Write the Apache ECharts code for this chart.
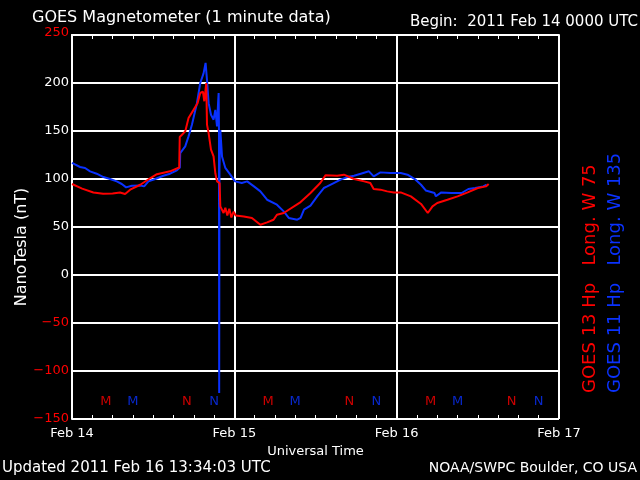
<!DOCTYPE html>
<html>
<head>
<meta charset="utf-8">
<script src="https://cdn.jsdelivr.net/npm/echarts@6/dist/echarts.min.js"></script>
<style>html,body{margin:0;padding:0;background:#000;}#c{width:640px;height:480px;}</style>
</head>
<body>
<div id="c"></div>
<script>
// time in hours since 2011 Feb 14 00:00 UTC
const dayLabels = ['Feb 14', 'Feb 15', 'Feb 16', 'Feb 17'];
const yTicks = [-150, -100, -50, 0, 50, 100, 150, 200, 250];
const redYTicks = [-150, -100, -50, 250];

const redTime = [0,1.5,3.16,4.6,6,7.1,7.85,8.6,10.1,11.6,12.55,14.5,15.85,15.93,16.74,17.23,17.97,18.56,18.96,19.36,19.56,19.85,19.96,20.19,20.55,20.93,21.19,21.44,21.82,21.93,22.41,22.67,22.96,23.26,23.56,23.9,24.2,25.4,26.6,27.85,28.84,29.8,30.3,31.3,33.8,35.26,36.7,37.5,39.2,40.2,41.7,43.2,44.1,44.6,45.6,46.6,47.6,48.6,50.1,51.6,52.6,53.3,54.0,55.5,57.0,58.5,60.0,61.2,61.6];
const redValue = [94.8,90,86,84.7,85,86,84.4,88.9,94,101,105,108,112,143.7,149.6,163.5,172,179,189.6,191,181,200,156.6,148,130.5,123.5,106,97.5,95.8,71.5,64.6,70,62,69,60,66,62,61,59.4,52.4,54.8,57.6,62.8,64.6,76,85.4,95.8,104,103.4,104.5,100,97.5,95.8,89.6,88.9,87.1,86,86,81.9,74,64.6,71.5,75,78.4,81.9,86,90.6,92.3,94.8];

const blueTime = [0,1.19,1.93,2.67,3.65,4.64,5.63,6.62,7.36,8.0,8.84,10.07,10.67,11.3,12.3,13.5,14.5,15.5,15.95,16.0,16.74,17.23,17.73,18.47,18.96,19.45,19.75,19.96,20.2,20.55,20.93,21.19,21.44,21.6,21.68,21.73,21.76,21.8,21.93,22.18,22.67,23.4,24.1,25.1,25.9,26.9,27.85,28.84,30.3,31.3,32.05,33.3,33.8,34.3,35.26,36.25,37.23,37.73,38.7,39.7,40.7,41.7,42.7,43.9,44.6,45.6,47.1,48.6,49.6,50.8,51.6,52.3,53.6,53.8,54.6,56.1,57.6,58.6,59.6,60.8,61.3];
const blueValue = [116.7,112.5,111.5,108,105.5,102,100,97.5,94.8,91.3,93,93.3,92.3,97.5,100,103.4,105.5,109,112,127,134,144.4,156.6,179,200,210,221,203,179,167,161.8,172,154.8,180,189.6,150,-123,110,151,123.5,111.5,104.5,97.5,95.8,97.5,92.3,87.1,78.4,73.2,66.3,59.4,57.6,59.4,68,72.2,81.9,90.6,92.3,95.8,99.3,102,103.4,105.5,108,102.7,106.9,106.2,106.2,104.5,99.3,94,88.1,85.4,82,86,85.4,85.4,89.6,90.6,92.3,94];

// magnetic local midnight (M) and noon (N) markers
const redMarkTime = [5,17,29,41,53,65];
const redMarkText = ['M','N','M','N','M','N'];
const blueMarkTime = [9,21,33,45,57,69];
const blueMarkText = ['M','N','M','N','M','N'];
const markLevel = -132;

const RED = '#ff0000', BLUE = '#0a32ff', WHITE = '#ffffff';
const FONT = 'DejaVu Sans';

function pairs(t, v) { return t.map((x, i) => [x, v[i]]); }
function marks(t, s) { return t.map((x, i) => ({ value: [x, markLevel], name: s[i] })); }

const chart = echarts.init(document.getElementById('c'), null, { renderer: 'canvas' });
const option = {
  backgroundColor: '#000',
  animation: false,
  textStyle: { fontFamily: FONT },
  title: [
    { text: 'GOES Magnetometer (1 minute data)', left: 32, top: 10, padding: 0,
      textStyle: { color: WHITE, fontSize: 16, fontWeight: 'normal', fontFamily: FONT } },
    { text: 'Begin:  2011 Feb 14 0000 UTC', right: 2, top: 15, padding: 0,
      textStyle: { color: WHITE, fontSize: 15, fontWeight: 'normal', fontFamily: FONT } },
    { text: 'Updated 2011 Feb 16 13:34:03 UTC', left: 2, top: 461, padding: 0,
      textStyle: { color: WHITE, fontSize: 15, fontWeight: 'normal', fontFamily: FONT } },
    { text: 'NOAA/SWPC Boulder, CO USA', right: 3, top: 461, padding: 0,
      textStyle: { color: WHITE, fontSize: 14, fontWeight: 'normal', fontFamily: FONT } }
  ],
  grid: { left: 72, right: 81, top: 35, bottom: 61, containLabel: false },
  xAxis: [
    { type: 'value', min: 0, max: 72, interval: 24, position: 'bottom',
      name: 'Universal Time', nameLocation: 'middle', nameGap: 22,
      nameTextStyle: { color: WHITE, fontSize: 13, fontFamily: FONT },
      axisLine: { show: true, lineStyle: { color: WHITE, width: 2 } },
      axisTick: { show: false },
      axisLabel: { color: WHITE, fontSize: 13, margin: 8, fontFamily: FONT,
        formatter: v => dayLabels[Math.round(v / 24)] },
      splitLine: { show: true, lineStyle: { color: WHITE, width: 2 } } },
    { type: 'value', min: 0, max: 72, interval: 3, position: 'bottom',
      axisLine: { show: false },
      axisTick: { show: true, inside: true, length: 4, lineStyle: { color: WHITE, width: 1 } },
      axisLabel: { show: false }, splitLine: { show: false } },
    { type: 'value', min: 0, max: 72, interval: 3, position: 'top',
      axisLine: { show: true, lineStyle: { color: WHITE, width: 2 } },
      axisTick: { show: true, inside: true, length: 4, lineStyle: { color: WHITE, width: 1 } },
      axisLabel: { show: false }, splitLine: { show: false } }
  ],
  yAxis: [
    { type: 'value', min: -150, max: 250, interval: 50, position: 'left',
      axisLine: { show: true, lineStyle: { color: WHITE, width: 2 } },
      axisTick: { show: false },
      axisLabel: { margin: 3, fontSize: 13, fontFamily: FONT,
        formatter: v => {
          const s = String(v).replace('-', '\u2212');
          if (v === 250) return '{top|' + s + '}';
          return (redYTicks.indexOf(v) >= 0 ? '{r|' : '{w|') + s + '}';
        },
        rich: {
          r: { color: RED, fontSize: 13, fontFamily: FONT },
          w: { color: WHITE, fontSize: 13, fontFamily: FONT },
          top: { color: RED, fontSize: 13, fontFamily: FONT, padding: [0, 0, 5, 0] }
        } },
      splitLine: { show: true, lineStyle: { color: WHITE, width: 2 } } }
  ],
  graphic: [
    { type: 'text', x: 22, y: 247, rotation: Math.PI / 2,
      style: { text: 'NanoTesla (nT)', fill: WHITE, font: '16px "DejaVu Sans"',
        textAlign: 'center', textVerticalAlign: 'middle' } },
    { type: 'text', x: 590, y: 393, rotation: Math.PI / 2,
      style: { text: 'GOES 13 Hp   Long. W 75', fill: RED, font: '18px "DejaVu Sans"',
        textAlign: 'left', textVerticalAlign: 'middle' } },
    { type: 'text', x: 615, y: 393, rotation: Math.PI / 2,
      style: { text: 'GOES 11 Hp   Long. W 135', fill: BLUE, font: '18px "DejaVu Sans"',
        textAlign: 'left', textVerticalAlign: 'middle' } }
  ],
  series: [
    { name: 'GOES 11', type: 'line', data: pairs(blueTime, blueValue), showSymbol: false,
      lineStyle: { color: BLUE, width: 2 }, itemStyle: { color: BLUE } },
    { name: 'GOES 13', type: 'line', data: pairs(redTime, redValue), showSymbol: false,
      lineStyle: { color: RED, width: 2 }, itemStyle: { color: RED } },
    { type: 'scatter', data: marks(redMarkTime, redMarkText), symbolSize: 0,
      label: { show: true, position: 'inside', formatter: p => p.name, color: RED, fontSize: 13, fontFamily: FONT } },
    { type: 'scatter', data: marks(blueMarkTime, blueMarkText), symbolSize: 0,
      label: { show: true, position: 'inside', formatter: p => p.name, color: BLUE, fontSize: 13, fontFamily: FONT } }
  ]
};
chart.setOption(option);
</script>
</body>
</html>
